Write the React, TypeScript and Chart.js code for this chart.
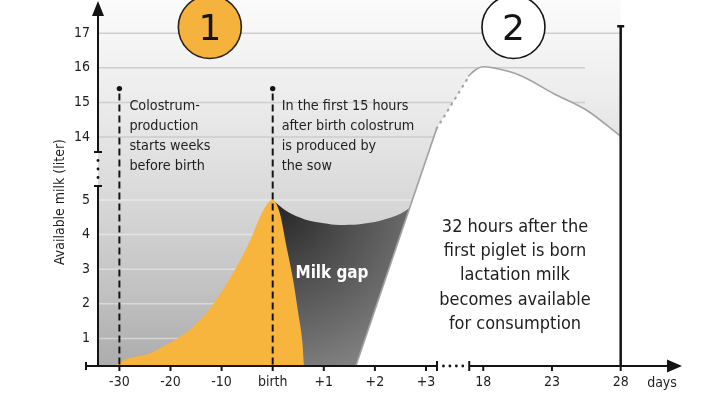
import React, { useEffect, useRef } from "react";
import { Chart, registerables } from "chart.js";

Chart.register(...registerables);

// ---------- data (days relative to birth, available milk in liters) ----------
const colostrumDays = [-32, -30, -24, -20, -15.5, -12, -7.4, -4.4, -1.8, 0, 0.14, 0.27, 0.4, 0.5, 0.58, 0.62];
const colostrumLiters = [0, 0.3, 0.57, 0.88, 1.34, 1.92, 2.98, 3.84, 4.71, 5.0, 4.62, 3.65, 2.69, 1.73, 0.9, 0];

const gapDays = [0, 0.3, 0.63, 1.0, 1.3, 1.7, 2.1, 2.5, 2.9];
const gapLiters = [5.0, 4.65, 4.44, 4.33, 4.28, 4.3, 4.4, 4.6, 5.0];

const lactationRiseDays = [1.58, 3.21, 17.0];
const lactationRiseLiters = [0, 14.25, 15.78];

const lactationDays = [16.9, 17.4, 18, 18.7, 20.7, 23.1, 25.5, 28];
const lactationLiters = [15.75, 15.93, 16.03, 16.0, 15.78, 15.26, 14.78, 14.02];

const xTickDays = [-30, -20, -10, 0, 1, 2, 3, 18, 23, 28];
const xTickLabels = ["-30", "-20", "-10", "birth", "+1", "+2", "+3", "18", "23", "28"];
const yTickLiters = [1, 2, 3, 4, 5, 14, 15, 16, 17];

const markerDays = [-30, 0];
const phaseLabels = ["1", "2"];
const phaseDays = [-12.3, 20.2];

const noteColostrum = ["Colostrum-", "production", "starts weeks", "before birth"];
const noteBirth = ["In the first 15 hours", "after birth colostrum", "is produced by", "the sow"];
const noteLactation = ["32 hours after the", "first piglet is born", "lactation milk", "becomes available", "for consumption"];
const gapLabel = "Milk gap";
const yTitle = "Available milk (liter)";
const xUnit = "days";

// ---------- broken-axis mappings ----------
const dayToX = (d: number) => (d <= 0 ? d / 10 : d <= 10 ? d : 4.12 + (d - 18) * 0.269);
const litersToY = (v: number) => (v <= 6 ? v : v - 7.18);

const INK = "#141414";
const YELLOW = "#F8B53D";

function detectFamily(): string {
  const c = document.createElement("canvas").getContext("2d")!;
  const probe = "abcdefghijklmnopqrstuvwxyz0123456789";
  const w = (f: string) => {
    c.font = `40px ${f}`;
    return c.measureText(probe).width;
  };
  const mono = w("monospace");
  const serif = w("serif");
  for (const name of ["Liberation Sans Narrow", "DejaVu Sans Condensed", "Liberation Sans"]) {
    if (w(`"${name}", monospace`) !== mono && w(`"${name}", serif`) !== serif) {
      return `"${name}", "Liberation Sans", sans-serif`;
    }
  }
  return "sans-serif";
}

function fitFont(ctx: CanvasRenderingContext2D, fam: string, weight: string, text: string, target: number) {
  ctx.font = `${weight} 100px ${fam}`;
  const w = ctx.measureText(text).width;
  return `${weight} ${((100 * target) / w).toFixed(2)}px ${fam}`;
}

const noPad = (s: any) => {
  s.paddingTop = 0;
  s.paddingBottom = 0;
  s.paddingLeft = 0;
  s.paddingRight = 0;
};

export default function App() {
  const ref = useRef<HTMLCanvasElement>(null);

  useEffect(() => {
    const canvas = ref.current!;
    const fam = detectFamily();
    const tickSize = 14;
    const toXY = (ds: number[], ls: number[]) => ds.map((d, i) => ({ x: dayToX(d), y: litersToY(ls[i]) }));

    const decor = {
      id: "decor",
      beforeDatasetsDraw(chart: any) {
        const { ctx, chartArea: ca, scales } = chart;
        const X = (d: number) => scales.x.getPixelForValue(dayToX(d));
        const Y = (v: number) => scales.y.getPixelForValue(litersToY(v));
        ctx.save();
        const right = X(28);
        const g = ctx.createLinearGradient(0, ca.top, 0, ca.bottom);
        g.addColorStop(0, "#fbfbfb");
        g.addColorStop(0.27, "#ececec");
        g.addColorStop(0.55, "#d8d8d8");
        g.addColorStop(0.8, "#c1c1c1");
        g.addColorStop(1, "#acacac");
        ctx.fillStyle = g;
        ctx.fillRect(ca.left, ca.top, right - ca.left, ca.bottom - ca.top);
        ctx.lineWidth = 1.5;
        for (const v of yTickLiters) {
          const py = Y(v);
          ctx.beginPath();
          if (v >= 14) {
            ctx.strokeStyle = "#cdcdcd";
            ctx.moveTo(ca.left, py);
            ctx.lineTo(v === 17 ? right : X(25.4), py);
          } else {
            ctx.strokeStyle = "rgba(255,255,255,0.42)";
            ctx.moveTo(ca.left, py);
            ctx.lineTo(X(3), py);
          }
          ctx.stroke();
        }
        ctx.restore();
      },
      afterDatasetsDraw(chart: any) {
        const { ctx, chartArea: ca, scales } = chart;
        const X = (d: number) => scales.x.getPixelForValue(dayToX(d));
        const Y = (v: number) => scales.y.getPixelForValue(litersToY(v));
        const base = ca.bottom;
        const ax = ca.left;
        ctx.save();
        ctx.strokeStyle = INK;
        ctx.fillStyle = INK;

        // dashed markers
        const mTop = Y(15.4);
        ctx.lineWidth = 2;
        ctx.setLineDash([7, 4]);
        for (const d of markerDays) {
          const px = X(d);
          ctx.beginPath();
          ctx.moveTo(px, mTop + 5);
          ctx.lineTo(px, base);
          ctx.stroke();
        }
        ctx.setLineDash([]);
        for (const d of markerDays) {
          ctx.beginPath();
          ctx.arc(X(d), mTop, 2.7, 0, Math.PI * 2);
          ctx.fill();
        }

        // y axis with break
        const capTop = Y(14) + 15;
        const capBot = Y(5) - 14;
        ctx.lineWidth = 2;
        ctx.beginPath();
        ctx.moveTo(ax, 14);
        ctx.lineTo(ax, capTop);
        ctx.moveTo(ax - 4, capTop);
        ctx.lineTo(ax + 4, capTop);
        ctx.moveTo(ax - 4, capBot);
        ctx.lineTo(ax + 4, capBot);
        ctx.moveTo(ax, capBot);
        ctx.lineTo(ax, base);
        ctx.stroke();
        for (let i = 1; i <= 3; i++) {
          ctx.beginPath();
          ctx.arc(ax, capTop + ((capBot - capTop) * i) / 4, 1.4, 0, Math.PI * 2);
          ctx.fill();
        }
        ctx.beginPath();
        ctx.moveTo(ax, 1);
        ctx.lineTo(ax - 6, 16);
        ctx.lineTo(ax + 6, 16);
        ctx.closePath();
        ctx.fill();

        // x axis with break
        const bL = X(3) + 11;
        const bR = X(18) - 14;
        const tip = ca.right;
        ctx.beginPath();
        ctx.moveTo(ax - 12, base);
        ctx.lineTo(bL, base);
        ctx.moveTo(bR, base);
        ctx.lineTo(tip - 14, base);
        ctx.moveTo(ax - 12, base - 4);
        ctx.lineTo(ax - 12, base + 4);
        ctx.moveTo(bL, base - 5);
        ctx.lineTo(bL, base + 5);
        ctx.moveTo(bR, base - 5);
        ctx.lineTo(bR, base + 5);
        for (const d of xTickDays) {
          const px = X(d);
          ctx.moveTo(px, base);
          ctx.lineTo(px, base + 5);
        }
        ctx.stroke();
        for (let i = 1; i <= 4; i++) {
          ctx.beginPath();
          ctx.arc(bL + ((bR - bL) * i) / 5, base, 1.4, 0, Math.PI * 2);
          ctx.fill();
        }
        ctx.beginPath();
        ctx.moveTo(tip, base);
        ctx.lineTo(tip - 15, base - 6.5);
        ctx.lineTo(tip - 15, base + 6.5);
        ctx.closePath();
        ctx.fill();

        // day 28 line
        const x28 = X(28);
        ctx.lineWidth = 2.5;
        ctx.beginPath();
        ctx.moveTo(x28, Y(17) - 7);
        ctx.lineTo(x28, base);
        ctx.moveTo(x28 - 3.5, Y(17) - 7);
        ctx.lineTo(x28 + 3.5, Y(17) - 7);
        ctx.stroke();

        // phase circles
        phaseLabels.forEach((lab, i) => {
          const cx = X(phaseDays[i]);
          const cy = 27;
          ctx.beginPath();
          ctx.arc(cx, cy, 31.5, 0, Math.PI * 2);
          ctx.fillStyle = i === 0 ? "#F5B23C" : "#ffffff";
          ctx.fill();
          ctx.lineWidth = 1.6;
          ctx.strokeStyle = i === 0 ? "#2a2216" : INK;
          ctx.stroke();
          ctx.fillStyle = INK;
          ctx.font = `36px "DejaVu Sans", sans-serif`;
          ctx.textAlign = "center";
          ctx.textBaseline = "alphabetic";
          ctx.fillText(lab, cx, cy + 13);
        });

        // notes
        ctx.fillStyle = "#1e1e1e";
        ctx.textAlign = "left";
        ctx.textBaseline = "alphabetic";
        ctx.font = fitFont(ctx, fam, "", "after birth colostrum", 132.7);
        noteColostrum.forEach((t, i) => ctx.fillText(t, X(-30) + 10, 110 + i * 20));
        noteBirth.forEach((t, i) => ctx.fillText(t, X(0) + 9, 110 + i * 20));

        ctx.font = fitFont(ctx, fam, "", "becomes available", 151.4);
        ctx.textAlign = "center";
        noteLactation.forEach((t, i) => ctx.fillText(t, 515, 232 + i * 24.2));

        ctx.fillStyle = "#ffffff";
        ctx.font = fitFont(ctx, fam, "bold", gapLabel, 73);
        ctx.fillText(gapLabel, 332, 278);

        ctx.fillStyle = "#1e1e1e";
        ctx.font = `${tickSize}px ${fam}`;
        ctx.textBaseline = "middle";
        ctx.fillText(xUnit, 662, 383.6);

        ctx.save();
        ctx.translate(60, 202);
        ctx.rotate(-Math.PI / 2);
        ctx.font = fitFont(ctx, fam, "", yTitle, 126);
        ctx.textAlign = "center";
        ctx.textBaseline = "middle";
        ctx.fillText(yTitle, 0, 0);
        ctx.restore();

        ctx.restore();
      },
    };

    const gapFill = (c: any) => {
      const chart = c.chart;
      const ca = chart.chartArea;
      if (!ca) return "#555";
      const sx = chart.scales.x;
      const sy = chart.scales.y;
      const cx = sx.getPixelForValue(dayToX(0.05));
      const cy = sy.getPixelForValue(litersToY(4.9));
      const g = chart.ctx.createRadialGradient(cx, cy, 0, cx, cy, 175);
      g.addColorStop(0, "#252525");
      g.addColorStop(0.45, "#4f4f4f");
      g.addColorStop(0.75, "#696969");
      g.addColorStop(1, "#808080");
      return g;
    };

    const chart = new Chart(canvas, {
      type: "line",
      data: {
        datasets: [
          {
            label: "Colostrum",
            data: toXY(colostrumDays, colostrumLiters),
            fill: "origin",
            backgroundColor: YELLOW,
            borderColor: "rgba(0,0,0,0)",
            borderWidth: 0,
            cubicInterpolationMode: "monotone",
            pointRadius: 0,
          },
          {
            label: "Lactation rise line",
            data: toXY(lactationRiseDays, lactationRiseLiters),
            fill: false,
            borderColor: "#a2a2a2",
            borderWidth: 1.6,
            tension: 0,
            pointRadius: 0,
            segment: {
              borderDash: (c: any) => (c.p0DataIndex === 1 ? [1, 6] : undefined),
              borderCapStyle: (c: any) => (c.p0DataIndex === 1 ? "round" : "butt"),
              borderWidth: (c: any) => (c.p0DataIndex === 1 ? 2.2 : 1.6),
            },
          },
          {
            label: "Lactation rise",
            data: toXY(lactationRiseDays, lactationRiseLiters),
            fill: "origin",
            backgroundColor: "#ffffff",
            borderColor: "rgba(0,0,0,0)",
            borderWidth: 0,
            tension: 0,
            pointRadius: 0,
          },
          {
            label: "Lactation milk",
            data: toXY(lactationDays, lactationLiters),
            fill: "origin",
            backgroundColor: "#ffffff",
            borderColor: "#a2a2a2",
            borderWidth: 1.6,
            cubicInterpolationMode: "monotone",
            pointRadius: 0,
          },
          {
            label: "Milk gap",
            data: toXY(gapDays, gapLiters),
            fill: "origin",
            backgroundColor: gapFill,
            borderColor: "rgba(0,0,0,0)",
            borderWidth: 0,
            cubicInterpolationMode: "monotone",
            pointRadius: 0,
          },
        ],
      } as any,
      options: {
        responsive: false,
        animation: false,
        events: [],
        layout: { autoPadding: false, padding: { top: 0, left: 0, right: 22, bottom: 0 } },
        plugins: { legend: { display: false }, tooltip: { enabled: false } },
        scales: {
          x: {
            type: "linear",
            min: (98 - 272.7) / 51.1,
            max: (682 - 272.7) / 51.1,
            grid: { display: false, drawTicks: false },
            border: { display: false },
            afterFit: (s: any) => {
              s.height = 28;
              noPad(s);
            },
            afterBuildTicks: (s: any) => {
              s.ticks = xTickDays.map((d) => ({ value: dayToX(d) }));
            },
            ticks: {
              autoSkip: false,
              maxRotation: 0,
              padding: 8,
              color: "#1e1e1e",
              font: { family: fam, size: tickSize },
              callback: (_v: any, i: number) => xTickLabels[i],
            },
          },
          y: {
            type: "linear",
            min: 7 / 34.6,
            max: 373 / 34.6,
            grid: { display: false, drawTicks: false },
            border: { display: false },
            afterFit: (s: any) => {
              s.width = 98;
              noPad(s);
            },
            afterBuildTicks: (s: any) => {
              s.ticks = yTickLiters.map((v) => ({ value: litersToY(v) }));
            },
            ticks: {
              autoSkip: false,
              padding: 8,
              color: "#1e1e1e",
              font: { family: fam, size: tickSize },
              callback: (_v: any, i: number) => String(yTickLiters[i]),
            },
          },
        },
      } as any,
      plugins: [decor],
    });

    return () => chart.destroy();
  }, []);

  return (
    <div style={{ position: "fixed", left: 0, top: 0, width: 704, height: 394, background: "#ffffff" }}>
      <canvas ref={ref} width={704} height={394} style={{ display: "block", width: 704, height: 394 }} />
    </div>
  );
}
